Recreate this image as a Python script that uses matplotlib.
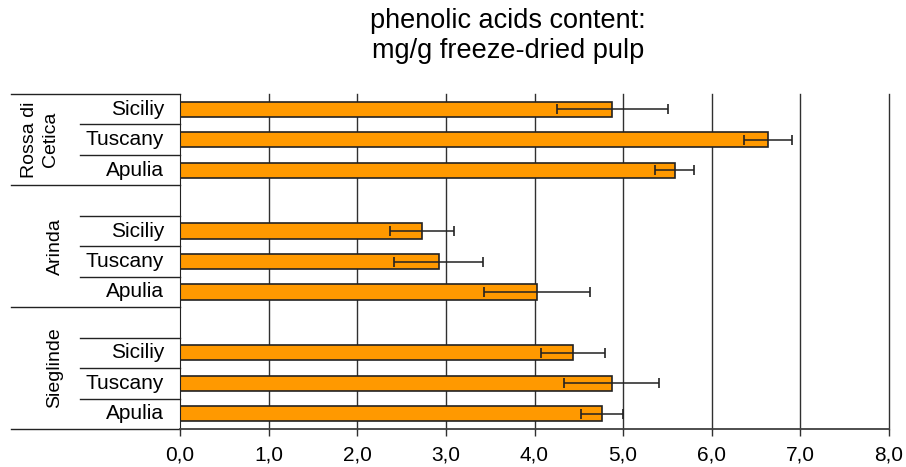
import numpy as np
import matplotlib.pyplot as plt
from matplotlib.transforms import blended_transform_factory

plt.rcParams['font.family'] = ['Liberation Sans', 'DejaVu Sans']

# data (top to bottom)
groups = ["Rossa di\nCetica", "Arinda", "Sieglinde"]
regions = ["Siciliy", "Tuscany", "Apulia"]
values = [4.88, 6.63, 5.58,
          2.73, 2.92, 4.03,
          4.43, 4.87, 4.76]
errors = [0.63, 0.27, 0.22,
          0.36, 0.50, 0.60,
          0.36, 0.54, 0.24]
xticks = [0, 1, 2, 3, 4, 5, 6, 7, 8]

# row positions: first group has 3 rows, others have a blank row on top
rows = [0, 1, 2, 4, 5, 6, 8, 9, 10]

fig = plt.figure(figsize=(9.06, 4.67), dpi=100)
ax = fig.add_axes([180 / 906, 1 - 429 / 467, 709 / 906, 335 / 467])

for x in xticks[1:]:
    ax.axvline(x, color="#303030", lw=1.0, zorder=0, clip_on=False)

ax.barh(rows, values, height=0.5, color="#FF9900", edgecolor="#222222",
        linewidth=1.2, zorder=2)
ax.errorbar(values, rows, xerr=errors, fmt="none", ecolor="#222222",
            elinewidth=1.1, capsize=3.5, capthick=1.2, zorder=3)

ax.set_xlim(0, 8)
ax.set_ylim(10.5, -0.5)
ax.set_xticks(xticks)
ax.set_xticklabels([f"{x:.1f}".replace(".", ",") for x in xticks], fontsize=15)
ax.tick_params(axis="x", length=5, width=1, color="#303030", pad=7)
ax.set_yticks([])

for s in ["top", "right"]:
    ax.spines[s].set_visible(False)
ax.spines["left"].set_color("#222222")
ax.spines["bottom"].set_color("#404040")
ax.spines["bottom"].set_linewidth(1.3)

# left side category lines and labels
tr = blended_transform_factory(ax.transAxes, ax.transData)
outer_x = (11 - 180) / 709
inner_x = (80 - 180) / 709
for y in [-0.5, 2.5, 6.5, 10.5]:
    ax.plot([outer_x, 0], [y, y], transform=tr, color="#222222", lw=1.0,
            clip_on=False)
for y in [0.5, 1.5, 3.5, 4.5, 5.5, 7.5, 8.5, 9.5]:
    ax.plot([inner_x, 0], [y, y], transform=tr, color="#222222", lw=1.0,
            clip_on=False)

for i, r in enumerate(rows):
    ax.text((164 - 180) / 709, r, regions[i % 3], transform=tr, ha="right",
            va="center", fontsize=15)

group_centers = [1.0, 4.5, 8.5]
group_x = [40, 55, 55]
for g, yc, gx in zip(groups, group_centers, group_x):
    ax.text((gx - 180) / 709, yc, g, transform=tr, rotation=90, ha="center",
            va="center", fontsize=14, linespacing=1.35)

fig.text(508 / 906, 1 - 36 / 467, "phenolic acids content:\nmg/g freeze-dried pulp",
         ha="center", va="center", fontsize=19.5, linespacing=1.2)

fig.savefig("out.png", dpi=100)
